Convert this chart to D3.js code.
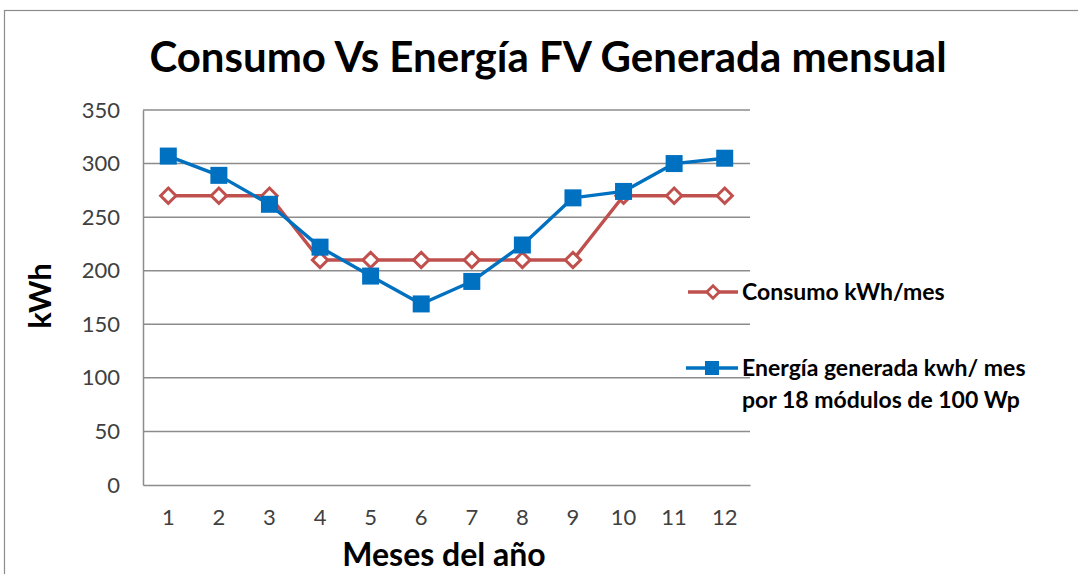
<!DOCTYPE html>
<html>
<head>
<meta charset="utf-8">
<script src="https://cdn.jsdelivr.net/npm/d3@7/dist/d3.min.js"></script>
<style>
  html, body { margin: 0; padding: 0; background: #fff; }
  svg { display: block; font-family: Lato, "Open Sans", sans-serif; }
</style>
</head>
<body>
<svg id="chart" width="1078" height="574"></svg>
<script>
// Monthly consumption vs. generated PV energy
const months = [1, 2, 3, 4, 5, 6, 7, 8, 9, 10, 11, 12];
const consumo = [270, 270, 270, 210, 210, 210, 210, 210, 210, 270, 270, 270];
const generada = [307, 289, 262, 222, 195, 169, 190, 224, 268, 274, 300, 305];
const yTicks = [0, 50, 100, 150, 200, 250, 300, 350];
const seriesNames = ["Consumo kWh/mes", ["Energía generada kwh/ mes", "por 18 módulos de 100 Wp"]];
const colors = { consumo: "#C0504D", generada: "#0070C0", grid: "#8C8C8C", text: "#404040" };

const svg = d3.select("#chart");
const plot = { left: 143, right: 750, top: 110, bottom: 485 };

// Chart area frame
svg.append("rect")
  .attr("x", 4.5).attr("y", 10.5)
  .attr("width", 1200).attr("height", 700)
  .attr("fill", "#fff").attr("stroke", "#8C8C8C").attr("stroke-width", 1.2);

const x = d3.scaleBand().domain(months).range([plot.left, plot.right]);
const y = d3.scaleLinear().domain([0, 350]).range([plot.bottom, plot.top]);
const cx = d => x(d) + x.bandwidth() / 2;

// Horizontal gridlines
svg.append("g")
  .selectAll("line")
  .data(yTicks.filter(t => t > 0))
  .join("line")
  .attr("x1", plot.left).attr("x2", plot.right)
  .attr("y1", d => y(d)).attr("y2", d => y(d))
  .attr("stroke", colors.grid).attr("stroke-width", 1.5);

// Y axis
const yAxis = svg.append("g")
  .attr("transform", `translate(${plot.left},0)`)
  .call(d3.axisLeft(y).tickValues(yTicks).tickSize(0).tickPadding(23));
yAxis.select(".domain").attr("stroke", colors.grid).attr("stroke-width", 1.5);
yAxis.selectAll("text")
  .attr("fill", colors.text).attr("font-size", 22).attr("font-family", "Lato, sans-serif");

// X axis
const xAxis = svg.append("g")
  .attr("transform", `translate(0,${plot.bottom})`)
  .call(d3.axisBottom(x).tickSize(0).tickPadding(24));
xAxis.select(".domain").attr("stroke", colors.grid).attr("stroke-width", 1.5);
xAxis.selectAll("text")
  .attr("fill", colors.text).attr("font-size", 22).attr("font-family", "Lato, sans-serif");

// Title
svg.append("text")
  .attr("x", 548).attr("y", 72)
  .attr("text-anchor", "middle")
  .attr("font-size", 42).attr("font-weight", "bold").attr("fill", "#000")
  .text("Consumo Vs Energía FV Generada mensual");

// Axis titles
svg.append("text")
  .attr("transform", "translate(51,296) rotate(-90)")
  .attr("text-anchor", "middle")
  .attr("font-size", 31).attr("font-weight", "bold").attr("fill", "#000")
  .text("kWh");

svg.append("text")
  .attr("x", 444).attr("y", 566)
  .attr("text-anchor", "middle")
  .attr("font-size", 32).attr("font-weight", "bold").attr("fill", "#000")
  .text("Meses del año");

// Series lines
const line = d3.line().x((d, i) => cx(months[i])).y(d => y(d));

svg.append("path")
  .datum(consumo)
  .attr("d", line)
  .attr("fill", "none").attr("stroke", colors.consumo).attr("stroke-width", 3.4)
  .attr("stroke-linejoin", "round");

svg.append("g")
  .selectAll("path")
  .data(consumo)
  .join("path")
  .attr("d", d3.symbol(d3.symbolDiamond2, 150))
  .attr("transform", (d, i) => `translate(${cx(months[i])},${y(d)})`)
  .attr("fill", "#fff").attr("stroke", colors.consumo).attr("stroke-width", 3);

svg.append("path")
  .datum(generada)
  .attr("d", line)
  .attr("fill", "none").attr("stroke", colors.generada).attr("stroke-width", 3.4)
  .attr("stroke-linejoin", "round");

svg.append("g")
  .selectAll("rect")
  .data(generada)
  .join("rect")
  .attr("x", (d, i) => cx(months[i]) - 8.5).attr("y", d => y(d) - 8.5)
  .attr("width", 17).attr("height", 17)
  .attr("fill", colors.generada);

// Legend
const legend = svg.append("g");
const l1 = legend.append("g").attr("transform", "translate(688,292)");
l1.append("line").attr("x1", 0).attr("x2", 50).attr("stroke", colors.consumo).attr("stroke-width", 3.4);
l1.append("path").attr("d", d3.symbol(d3.symbolDiamond2, 100))
  .attr("transform", "translate(25,0)")
  .attr("fill", "#fff").attr("stroke", colors.consumo).attr("stroke-width", 2.8);
l1.append("text").attr("x", 54).attr("y", 8)
  .attr("font-size", 23).attr("font-weight", "bold").attr("fill", "#000")
  .text(seriesNames[0]);

const l2 = legend.append("g").attr("transform", "translate(686,368)");
l2.append("line").attr("x1", 0).attr("x2", 52).attr("stroke", colors.generada).attr("stroke-width", 3.4);
l2.append("rect").attr("x", 19).attr("y", -7).attr("width", 14).attr("height", 14).attr("fill", colors.generada);
const t2 = l2.append("text").attr("x", 56).attr("y", 8)
  .attr("font-size", 23).attr("font-weight", "bold").attr("fill", "#000");
t2.selectAll("tspan").data(seriesNames[1]).join("tspan")
  .attr("x", 56).attr("dy", (d, i) => i === 0 ? 0 : 32)
  .text(d => d);
</script>
</body>
</html>
